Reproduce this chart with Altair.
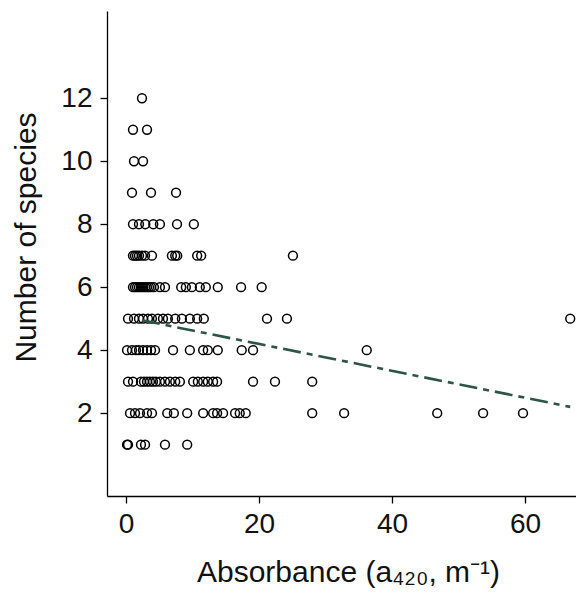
import altair as alt
import pandas as pd

# Absorbance values (a420, m^-1), grouped by number of species
abs_n1 = [0.15, 0.3, 2.25, 2.86, 5.86, 9.2]
abs_n2 = [0.6, 1.35, 2.1, 3.16, 3.9, 6.2, 7.2, 9.2, 11.6, 13.1, 13.7, 14.6, 16.4, 17.1, 18.0, 28.0, 32.8, 46.8, 53.7, 59.7]
abs_n3 = [0.3, 1.05, 2.25, 2.7, 3.16, 3.6, 4.06, 4.5, 5.1, 5.86, 6.6, 7.4, 8.1, 10.1, 10.8, 11.6, 12.3, 13.1, 13.7, 19.1, 22.4, 28.0]
abs_n4 = [0.15, 0.9, 1.5, 1.95, 2.56, 3.16, 3.76, 4.36, 7.07, 9.6, 11.6, 12.3, 13.8, 17.4, 19.1, 36.2]
abs_n5 = [0.3, 1.2, 1.95, 2.56, 3.3, 3.9, 4.8, 5.56, 6.3, 7.4, 8.4, 9.6, 10.7, 11.7, 21.2, 24.2, 66.8]
abs_n6 = [1.05, 1.35, 1.65, 1.95, 2.25, 2.56, 2.86, 3.16, 3.46, 3.76, 4.2, 5.1, 5.86, 8.3, 9.0, 9.9, 11.1, 12.0, 13.8, 17.3, 20.4]
abs_n7 = [1.05, 1.35, 1.65, 1.95, 2.4, 2.86, 3.9, 6.9, 7.4, 7.7, 10.7, 11.3, 25.1]
abs_n8 = [1.05, 1.95, 2.9, 4.1, 5.1, 7.67, 10.2]
abs_n9 = [0.9, 3.76, 7.52]
abs_n10 = [1.2, 2.56]
abs_n11 = [1.05, 3.16]
abs_n12 = [2.4]

# Fitted trend line end points
trend_x = [2.4, 66.8]
trend_y = [4.95, 2.2]

x_ticks = [0, 20, 40, 60]
y_ticks = [2, 4, 6, 8, 10, 12]

groups = {1: abs_n1, 2: abs_n2, 3: abs_n3, 4: abs_n4, 5: abs_n5, 6: abs_n6,
          7: abs_n7, 8: abs_n8, 9: abs_n9, 10: abs_n10, 11: abs_n11, 12: abs_n12}
rows = []
for n, vals in groups.items():
    for v in vals:
        rows.append({"absorbance": v, "species": n})
pts = pd.DataFrame(rows)
trend = pd.DataFrame({"absorbance": trend_x, "species": trend_y})

FONT = "Liberation Sans"
xscale = alt.Scale(domain=[-2.86, 67.67], nice=False, zero=False)
yscale = alt.Scale(domain=[-0.63, 14.77], nice=False, zero=False)

xaxis = alt.Axis(values=x_ticks, title="Absorbance (a₄₂₀, m⁻¹)", grid=False,
                 labelFlush=False, labelPadding=7, titleX=241, titleY=85,
                 titleBaseline="alphabetic")
yaxis = alt.Axis(values=y_ticks, title="Number of species", grid=False,
                 labelPadding=8, titleX=-72, titleY=226, titleBaseline="alphabetic")

points = alt.Chart(pts).mark_point(shape="circle", filled=False, color="black",
                                   size=78, strokeWidth=1.5, opacity=1).encode(
    x=alt.X("absorbance:Q", scale=xscale, axis=xaxis),
    y=alt.Y("species:Q", scale=yscale, axis=yaxis),
)

line = alt.Chart(trend).mark_line(color="#2e5347", strokeWidth=2.6,
                                  strokeDash=[18, 6, 6, 6]).encode(
    x=alt.X("absorbance:Q", scale=xscale),
    y=alt.Y("species:Q", scale=yscale),
)

chart = alt.layer(points, line).properties(
    width=469, height=485,
    autosize=alt.AutoSizeParams(type="none"),
    padding={"left": 99, "top": 3, "right": 0, "bottom": 95},
).configure_view(stroke=None).configure_axis(
    domainColor="black", domainWidth=1.3, tickColor="black", tickWidth=1.3,
    tickSize=7, labelFont=FONT, labelFontSize=28, labelColor="#111111",
    titleFont=FONT, titleFontSize=30, titleFontWeight="normal", titleColor="#111111",
)

chart.save("out.html", embed_options={"renderer": "svg", "actions": False})
